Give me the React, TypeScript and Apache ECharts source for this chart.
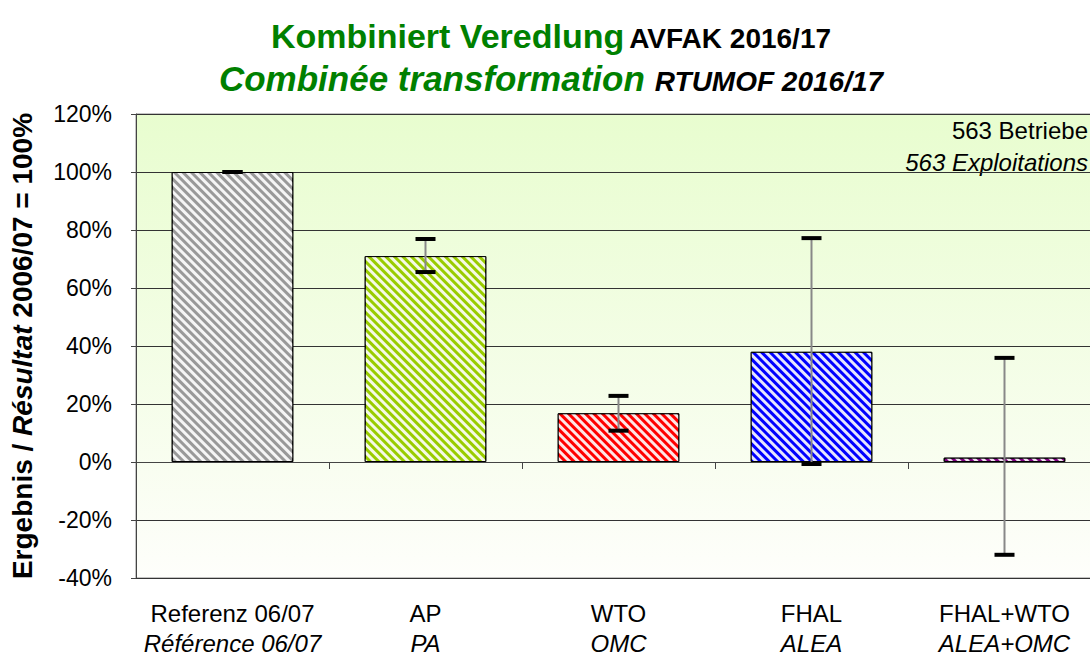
import React, { useEffect, useRef } from "react";
import * as echarts from "echarts";

const categoriesDE = ["Referenz 06/07", "AP", "WTO", "FHAL", "FHAL+WTO"];
const categoriesFR = ["Référence 06/07", "PA", "OMC", "ALEA", "ALEA+OMC"];
const values = [100, 71, 16.8, 38, 1.5];
const errLow = [100, 65.5, 10.8, -0.7, -32];
const errHigh = [100, 76.9, 22.8, 77.2, 35.9];
const barColors = ["#999999", "#99cc00", "#ff0000", "#0000ff", "#800080"];
const yMin = -40;
const yMax = 120;
const yInterval = 20;

const FONT = "'Liberation Sans', Arial, sans-serif";

export default function App() {
  const ref = useRef<HTMLDivElement>(null);
  useEffect(() => {
    if (!ref.current) return;
    const chart = echarts.init(ref.current, null, { renderer: "svg" });
    const labelIndex: Record<string, number> = {};
    categoriesDE.forEach((c, i) => (labelIndex[c] = i));

    const option: any = {
      animation: false,
      backgroundColor: "#ffffff",
      textStyle: { fontFamily: FONT },
      title: {
        text:
          "{a|Kombiniert Veredlung} {b|AVFAK 2016/17}\n{c|Combinée transformation}  {d|RTUMOF 2016/17}",
        left: 546,
        textAlign: "center",
        top: 9,
        textStyle: {
          fontFamily: FONT,
          rich: {
            a: { fontSize: 34, fontWeight: "bold", color: "#008000", fontFamily: FONT, lineHeight: 43 },
            b: { fontSize: 28, fontWeight: "bold", color: "#000", fontFamily: FONT, lineHeight: 43, padding: [5, 0, 0, 0] },
            c: { fontSize: 35, fontWeight: "bold", fontStyle: "italic", color: "#008000", fontFamily: FONT, lineHeight: 43 },
            d: { fontSize: 28, fontWeight: "bold", fontStyle: "italic", color: "#000", fontFamily: FONT, lineHeight: 43, padding: [5, 0, 0, 0] },
          },
        },
      },
      grid: {
        left: 136,
        top: 114,
        width: 965,
        height: 464,
        containLabel: false,
        outerBoundsMode: "none",
        show: true,
        borderColor: "#888",
        borderWidth: 1,
        backgroundColor: {
          type: "linear",
          x: 0,
          y: 0,
          x2: 0,
          y2: 1,
          colorStops: [
            { offset: 0, color: "#e8fdcf" },
            { offset: 1, color: "#fefefb" },
          ],
        },
      },
      xAxis: {
        type: "category",
        data: categoriesDE,
        axisLine: { onZero: true, lineStyle: { color: "#444", width: 1 } },
        axisTick: { show: true, length: 7, lineStyle: { color: "#444" } },
        axisLabel: {
          margin: 20,
          interval: 0,
          fontFamily: FONT,
          color: "#000",
          formatter: (v: string) => `{n|${v}}\n{i|${categoriesFR[labelIndex[v]]}}`,
          rich: {
            n: { fontSize: 24, fontFamily: FONT, color: "#000", lineHeight: 30 },
            i: { fontSize: 24, fontFamily: FONT, fontStyle: "italic", color: "#000", lineHeight: 30 },
          },
        },
      },
      yAxis: {
        type: "value",
        min: yMin,
        max: yMax,
        interval: yInterval,
        axisLine: { show: true, lineStyle: { color: "#444" } },
        axisTick: { show: true, length: 5, lineStyle: { color: "#444" } },
        axisLabel: {
          formatter: "{value}%",
          fontSize: 23,
          fontFamily: FONT,
          color: "#000",
          margin: 24,
        },
        splitLine: { show: true, lineStyle: { color: "#333", width: 1 } },
        name: "{b|Ergebnis / }{bi|Résultat}{b| 2006/07 = 100%}",
        nameLocation: "middle",
        nameRotate: 90,
        nameGap: 100,
        nameTextStyle: {
          rich: {
            b: { fontSize: 28, fontWeight: "bold", fontFamily: FONT, color: "#000" },
            bi: { fontSize: 28, fontWeight: "bold", fontStyle: "italic", fontFamily: FONT, color: "#000" },
          },
        },
      },
      series: [
        {
          type: "bar",
          barWidth: "63%",
          data: values.map((v, i) => ({
            value: v,
            itemStyle: {
              color: barColors[i],
              borderColor: "#000",
              borderWidth: 1,
              decal: {
                symbol: "rect",
                symbolSize: 1,
                dashArrayX: [1, 0],
                dashArrayY: [3, 3],
                rotation: Math.PI / 4,
                color: "rgba(255,255,255,0.9)",
              },
            },
          })),
        },
        {
          type: "custom",
          z: 10,
          data: errLow.map((lo, i) => [i, lo, errHigh[i]]),
          renderItem: (params: any, api: any) => {
            const x = api.value(0);
            const lo = api.coord([x, api.value(1)]);
            const hi = api.coord([x, api.value(2)]);
            const cx = lo[0];
            const cap = 10;
            return {
              type: "group",
              children: [
                {
                  type: "line",
                  shape: { x1: cx, y1: lo[1], x2: cx, y2: hi[1] },
                  style: { stroke: "#888", lineWidth: 2 },
                },
                {
                  type: "line",
                  shape: { x1: cx - cap, y1: hi[1], x2: cx + cap, y2: hi[1] },
                  style: { stroke: "#000", lineWidth: 4 },
                },
                {
                  type: "line",
                  shape: { x1: cx - cap, y1: lo[1], x2: cx + cap, y2: lo[1] },
                  style: { stroke: "#000", lineWidth: 4 },
                },
              ],
            };
          },
        },
      ],
      graphic: [
        {
          type: "text",
          x: 1088,
          y: 130,
          style: {
            text: "563 Betriebe",
            font: `24px ${FONT}`,
            fill: "#000",
            textAlign: "right",
            textVerticalAlign: "middle",
          },
        },
        {
          type: "text",
          x: 1088,
          y: 162,
          style: {
            text: "563 Exploitations",
            font: `italic 24px ${FONT}`,
            fill: "#000",
            textAlign: "right",
            textVerticalAlign: "middle",
          },
        },
      ],
    };
    chart.setOption(option);
    return () => chart.dispose();
  }, []);
  return (
    <div
      ref={ref}
      style={{ position: "fixed", left: 0, top: 0, width: 1090, height: 659 }}
    />
  );
}
